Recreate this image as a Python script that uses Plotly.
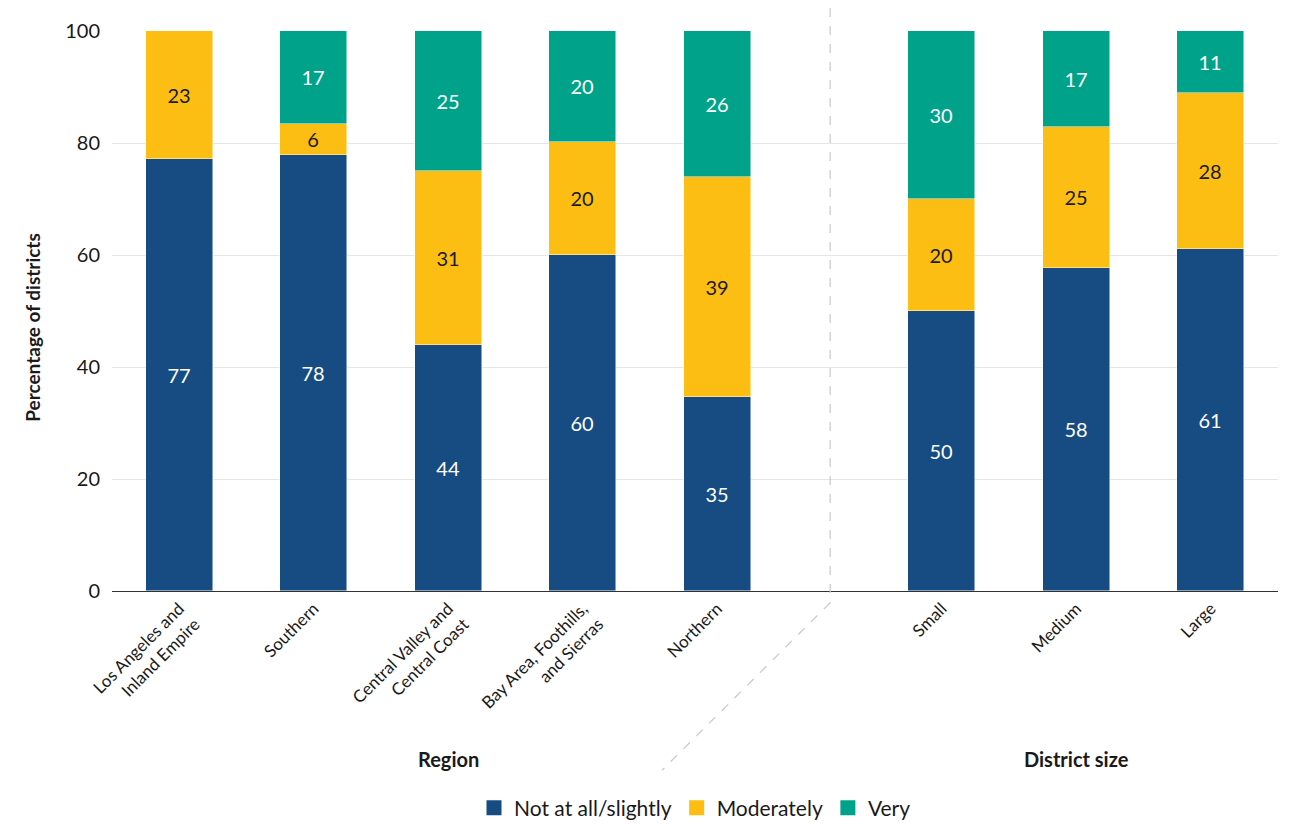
import plotly.graph_objects as go

categories = ["Los Angeles and<br>Inland Empire", "Southern", "Central Valley and<br>Central Coast",
              "Bay Area, Foothills,<br>and Sierras", "Northern", "Small", "Medium", "Large"]
x_pos = [0, 1, 2, 3, 4, 5.67, 6.67, 7.67]

not_at_all = [77.1, 77.8, 43.9, 60.0, 34.6, 50.0, 57.7, 61.1]
moderately = [22.9, 5.6, 31.1, 20.2, 39.3, 20.0, 25.2, 27.8]
very = [0, 16.6, 25.0, 19.8, 26.1, 30.0, 17.1, 11.1]

labels_not = ["77", "78", "44", "60", "35", "50", "58", "61"]
labels_mod = ["23", "6", "31", "20", "39", "20", "25", "28"]
labels_very = ["", "17", "25", "20", "26", "30", "17", "11"]

y_ticks = [0, 20, 40, 60, 80, 100]

BLUE = "#174C82"
YELLOW = "#FDBE13"
TEAL = "#00A38A"
FONT = "Lato"

fig = go.Figure()
for name, vals, labs, color, tcolor in [
    ("Not at all/slightly", not_at_all, labels_not, BLUE, "white"),
    ("Moderately", moderately, labels_mod, YELLOW, "#1a1a1a"),
    ("Very", very, labels_very, TEAL, "white"),
]:
    fig.add_trace(go.Bar(
        x=x_pos, y=vals, name=name, text=labs, width=0.5, showlegend=False,
        marker=dict(color=color, line=dict(color="rgba(255,255,255,0.6)", width=0.8)),
        textposition="inside", insidetextanchor="middle", textangle=0,
        constraintext="none",
        textfont=dict(color=tcolor, size=20, family=FONT),
        hoverinfo="skip",
    ))
    fig.add_trace(go.Scatter(
        x=[None], y=[None], mode="markers", name=name,
        marker=dict(symbol="square", size=15, color=color), hoverinfo="skip",
    ))

# page body has an 8px margin, so the figure is sized to fit inside the window
fig.update_layout(
    barmode="stack",
    width=1292, height=816,
    margin=dict(l=104, r=22, t=23, b=233, autoexpand=False),
    plot_bgcolor="white", paper_bgcolor="white",
    font=dict(family=FONT, color="#1a1a1a"),
    bargap=0,
    legend=dict(orientation="h", x=0.5, xanchor="center", y=-0.3875, yanchor="middle",
                font=dict(size=21, family=FONT), traceorder="normal",
                itemwidth=30, tracegroupgap=0),
    xaxis=dict(
        range=[-0.5, 8.17], tickmode="array", tickvals=x_pos, ticktext=categories,
        tickangle=-45, tickfont=dict(size=17, family=FONT), showgrid=False,
        showline=True, linecolor="#333333", linewidth=1.2, ticks="", zeroline=False,
        automargin=False,
    ),
    yaxis=dict(
        range=[0, 100], tickvals=y_ticks, tickfont=dict(size=20, family=FONT),
        showgrid=True, gridcolor="#e6e6e6", gridwidth=1.2, zeroline=False,
        ticks="", ticklabelstandoff=11, automargin=False,
    ),
)

fig.add_annotation(text="<b>Percentage of districts</b>", xref="paper", yref="paper",
                   x=0, xshift=-79, y=0.47, textangle=-90, showarrow=False,
                   font=dict(size=19, family=FONT), xanchor="center", yanchor="middle")

# divider between groups
fig.add_shape(type="line", xref="x", yref="paper", x0=4.84, x1=4.84, y0=1.041, y1=-0.021,
              line=dict(color="#c8c8c8", width=1.2, dash="dash"))
fig.add_shape(type="line", xref="x", yref="paper", x0=4.84, x1=3.59, y0=-0.021, y1=-0.32,
              line=dict(color="#c8c8c8", width=1.2, dash="dash"))

fig.add_annotation(text="<b>Region</b>", xref="x", yref="paper", x=2, y=-0.3, showarrow=False,
                   font=dict(size=20, family=FONT), yanchor="middle")
fig.add_annotation(text="<b>District size</b>", xref="x", yref="paper", x=6.67, y=-0.3, showarrow=False,
                   font=dict(size=20, family=FONT), yanchor="middle")

fig.write_html("out.html")
